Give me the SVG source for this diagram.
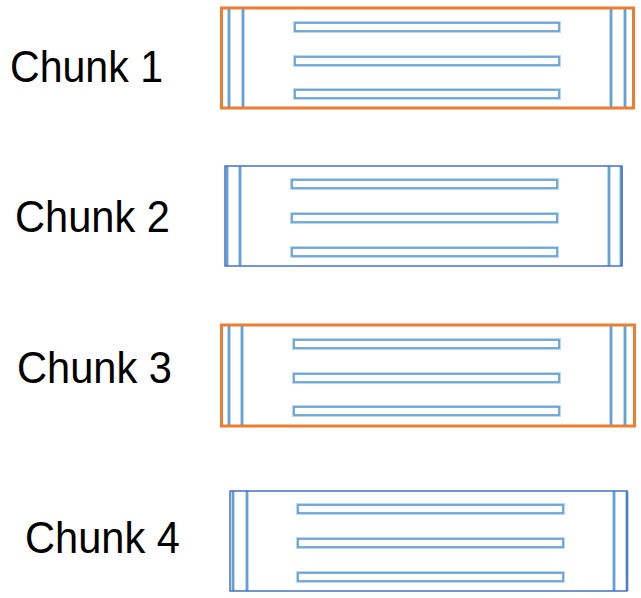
<svg xmlns="http://www.w3.org/2000/svg" width="641" height="598" viewBox="0 0 641 598">
<style>
.lbl{font-family:"Liberation Sans",Arial,sans-serif;font-size:44px;fill:#000}
.frame{fill:none;stroke:#4472C4;stroke-width:1.5}
.sel{fill:none;stroke:#ED7D31;stroke-width:3}
.halo{stroke:#BDD7EE;stroke-width:4;fill:none}
.vl{stroke:#5B9BD5;stroke-width:1.8;fill:none}
.barh{fill:none;stroke:#BDD7EE;stroke-width:4}
.bar{fill:#fff;stroke:#5B9BD5;stroke-width:1.6}
</style>
<rect width="641" height="598" fill="#fff"/>

<g id="chunk1">
<text class="lbl" x="10" y="82" textLength="153" lengthAdjust="spacingAndGlyphs">Chunk 1</text>
<g>
<line class="halo" x1="229" y1="9" x2="229" y2="107"/><line class="vl" x1="229" y1="9" x2="229" y2="107"/>
<line class="halo" x1="243" y1="9" x2="243" y2="107"/><line class="vl" x1="243" y1="9" x2="243" y2="107"/>
<line class="halo" x1="611" y1="9" x2="611" y2="107"/><line class="vl" x1="611" y1="9" x2="611" y2="107"/>
<line class="halo" x1="625" y1="9" x2="625" y2="107"/><line class="vl" x1="625" y1="9" x2="625" y2="107"/>
<rect class="barh" x="295" y="23" width="264" height="8"/><rect class="bar" x="295" y="23" width="264" height="8"/>
<rect class="barh" x="295" y="57" width="264" height="8"/><rect class="bar" x="295" y="57" width="264" height="8"/>
<rect class="barh" x="295" y="90" width="264" height="8"/><rect class="bar" x="295" y="90" width="264" height="8"/>
</g>
<rect class="sel" x="221.5" y="8" width="412" height="100"/>
</g>

<g id="chunk2">
<text class="lbl" x="15" y="232" textLength="155" lengthAdjust="spacingAndGlyphs">Chunk 2</text>
<line class="halo" x1="227" y1="166" x2="227" y2="266"/><line class="vl" x1="227" y1="166" x2="227" y2="266"/>
<line class="halo" x1="240" y1="166" x2="240" y2="266"/><line class="vl" x1="240" y1="166" x2="240" y2="266"/>
<line class="halo" x1="609" y1="166" x2="609" y2="266"/><line class="vl" x1="609" y1="166" x2="609" y2="266"/>
<line class="halo" x1="621" y1="166" x2="621" y2="266"/><line class="vl" x1="621" y1="166" x2="621" y2="266"/>
<rect class="barh" x="292" y="180" width="265" height="8"/><rect class="bar" x="292" y="180" width="265" height="8"/>
<rect class="barh" x="292" y="214" width="265" height="8"/><rect class="bar" x="292" y="214" width="265" height="8"/>
<rect class="barh" x="292" y="248" width="265" height="8"/><rect class="bar" x="292" y="248" width="265" height="8"/>
<rect class="frame" x="225" y="166" width="397" height="100"/>
</g>

<g id="chunk3">
<text class="lbl" x="17" y="383" textLength="155" lengthAdjust="spacingAndGlyphs">Chunk 3</text>
<line class="halo" x1="229" y1="326" x2="229" y2="425"/><line class="vl" x1="229" y1="326" x2="229" y2="425"/>
<line class="halo" x1="242" y1="326" x2="242" y2="425"/><line class="vl" x1="242" y1="326" x2="242" y2="425"/>
<line class="halo" x1="611" y1="326" x2="611" y2="425"/><line class="vl" x1="611" y1="326" x2="611" y2="425"/>
<line class="halo" x1="625" y1="326" x2="625" y2="425"/><line class="vl" x1="625" y1="326" x2="625" y2="425"/>
<rect class="barh" x="294" y="340" width="265" height="8"/><rect class="bar" x="294" y="340" width="265" height="8"/>
<rect class="barh" x="294" y="374" width="265" height="8"/><rect class="bar" x="294" y="374" width="265" height="8"/>
<rect class="barh" x="294" y="407" width="265" height="8"/><rect class="bar" x="294" y="407" width="265" height="8"/>
<rect class="sel" x="221.5" y="325" width="413" height="101"/>
</g>

<g id="chunk4">
<text class="lbl" x="25" y="553" textLength="155" lengthAdjust="spacingAndGlyphs">Chunk 4</text>
<line class="halo" x1="233" y1="491" x2="233" y2="591"/><line class="vl" x1="233" y1="491" x2="233" y2="591"/>
<line class="halo" x1="247" y1="491" x2="247" y2="591"/><line class="vl" x1="247" y1="491" x2="247" y2="591"/>
<line class="halo" x1="614" y1="491" x2="614" y2="591"/><line class="vl" x1="614" y1="491" x2="614" y2="591"/>
<line class="halo" x1="627" y1="491" x2="627" y2="591"/><line class="vl" x1="627" y1="491" x2="627" y2="591"/>
<rect class="barh" x="298" y="505" width="265" height="8"/><rect class="bar" x="298" y="505" width="265" height="8"/>
<rect class="barh" x="298" y="539" width="265" height="8"/><rect class="bar" x="298" y="539" width="265" height="8"/>
<rect class="barh" x="298" y="573" width="265" height="8"/><rect class="bar" x="298" y="573" width="265" height="8"/>
<rect class="frame" x="230" y="491" width="397" height="100"/>
</g>
<g id="connectors"/>
</svg>
